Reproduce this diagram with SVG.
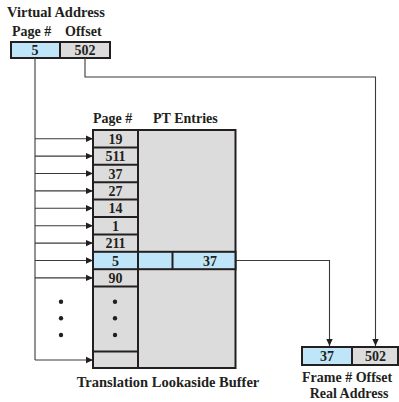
<svg xmlns="http://www.w3.org/2000/svg" width="399" height="402" viewBox="0 0 399 402">
<style>
text{font-family:"Liberation Serif","Times New Roman",serif;font-weight:bold;font-size:14px;fill:#231f20}
.c{text-anchor:middle}
.big{font-size:14.5px}
.box{stroke:#231f20;stroke-width:2}
.blue{fill:#bfe6f8}
.gray{fill:#dcdcdd}
.ln{fill:none;stroke:#3a3a3a;stroke-width:1.1}
.dot{fill:#231f20}
</style>
<defs>
<marker id="ah" markerWidth="8" markerHeight="8" refX="7" refY="4" orient="auto" markerUnits="userSpaceOnUse">
<path d="M0,0.8 L7,4 L0,7.2 Z" fill="#231f20"/>
</marker>
</defs>
<rect width="399" height="402" fill="#fff"/>
<g id="virtual-address">
<text class="big" x="7" y="16.5">Virtual Address</text>
<text x="12" y="35.5">Page #</text>
<text x="65" y="35.5">Offset</text>
<rect class="box blue" x="11" y="42" width="49" height="16"/>
<rect class="box gray" x="60" y="42" width="50" height="16"/>
<text class="c" x="35" y="55">5</text>
<text class="c" x="85" y="55">502</text>
</g>
<g id="connectors">
<path class="ln" d="M35,58 V360"/>
<path class="ln" d="M35,138.7 H93" marker-end="url(#ah)"/>
<path class="ln" d="M35,156.1 H93" marker-end="url(#ah)"/>
<path class="ln" d="M35,173.5 H93" marker-end="url(#ah)"/>
<path class="ln" d="M35,190.9 H93" marker-end="url(#ah)"/>
<path class="ln" d="M35,208.3 H93" marker-end="url(#ah)"/>
<path class="ln" d="M35,225.7 H93" marker-end="url(#ah)"/>
<path class="ln" d="M35,243.1 H93" marker-end="url(#ah)"/>
<path class="ln" d="M35,260.5 H93" marker-end="url(#ah)"/>
<path class="ln" d="M35,277.9 H93" marker-end="url(#ah)"/>
<path class="ln" d="M35,360 H93" marker-end="url(#ah)"/>
<path class="ln" d="M85,58 V77 H375.5 V346" marker-end="url(#ah)"/>
<path class="ln" d="M236,260.5 H329.5 V346" marker-end="url(#ah)"/>
</g>
<g id="tlb">
<text x="93" y="123">Page #</text>
<text x="153" y="123">PT Entries</text>
<rect class="box gray" x="93" y="130" width="142.5" height="238"/>
<rect class="box blue" x="93" y="251.8" width="142.5" height="17.4"/>
<path class="box" d="M138,130 V368 M93,147.4 H138 M93,164.8 H138 M93,182.2 H138 M93,199.6 H138 M93,217 H138 M93,234.4 H138 M93,286.6 H138 M93,351.5 H138 M172.5,251.8 V269.2"/>
<text class="c" x="115.5" y="143.8">19</text>
<text class="c" x="115.5" y="161.2">511</text>
<text class="c" x="115.5" y="178.6">37</text>
<text class="c" x="115.5" y="196">27</text>
<text class="c" x="115.5" y="213.4">14</text>
<text class="c" x="115.5" y="230.8">1</text>
<text class="c" x="115.5" y="248.2">211</text>
<text class="c" x="115.5" y="265.6">5</text>
<text class="c" x="115.5" y="283">90</text>
<text class="c" x="210" y="265.6">37</text>
<circle class="dot" cx="115" cy="301.7" r="2.2"/>
<circle class="dot" cx="115" cy="318.3" r="2.2"/>
<circle class="dot" cx="115" cy="335" r="2.2"/>
<circle class="dot" cx="61" cy="301.7" r="2.2"/>
<circle class="dot" cx="61" cy="318.3" r="2.2"/>
<circle class="dot" cx="61" cy="335" r="2.2"/>
<text class="c big" x="168" y="386.5">Translation Lookaside Buffer</text>
</g>
<g id="real-address">
<rect class="box blue" x="302" y="347" width="50" height="18"/>
<rect class="box gray" x="352" y="347" width="46" height="18"/>
<text class="c" x="327" y="361">37</text>
<text class="c" x="375.5" y="361">502</text>
<text x="302" y="381.5">Frame # Offset</text>
<text class="c" x="349" y="398">Real Address</text>
</g>
</svg>
